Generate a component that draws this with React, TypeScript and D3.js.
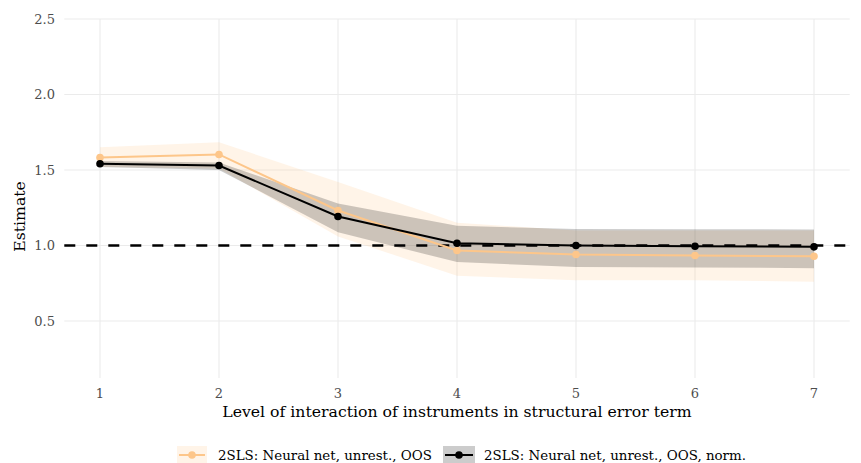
import React from "react";
import * as d3 from "d3";

const levels = [1, 2, 3, 4, 5, 6, 7];
const orangeEst = [1.583, 1.603, 1.232, 0.967, 0.94, 0.934, 0.929];
const orangeLo = [1.52, 1.51, 1.06, 0.8, 0.77, 0.77, 0.76];
const orangeHi = [1.651, 1.684, 1.42, 1.15, 1.1, 1.1, 1.1];
const blackEst = [1.541, 1.53, 1.192, 1.015, 1.0, 0.995, 0.991];
const blackLo = [1.52, 1.5, 1.088, 0.89, 0.857, 0.855, 0.85];
const blackHi = [1.56, 1.55, 1.278, 1.13, 1.11, 1.108, 1.106];
const yTicks = [0.5, 1.0, 1.5, 2.0, 2.5];
const seriesLabels = [
  "2SLS: Neural net, unrest., OOS",
  "2SLS: Neural net, unrest., OOS, norm.",
];

const W = 861;
const H = 463;
const FONT = "'DejaVu Serif', serif";
const ORANGE = "#fdc68a";

export default function App() {
  const x = d3.scaleLinear().domain([0.7, 7.3]).range([64.3, 849.7]);
  const y = d3.scaleLinear().domain([0.5, 2.5]).range([321, 19]);
  const panelTop = 19;
  const panelBottom = 378;

  const area = (lo: number[], hi: number[]) =>
    d3
      .area<number>()
      .x((d) => x(d))
      .y0((_, i) => y(lo[i]))
      .y1((_, i) => y(hi[i]))(levels) as string;
  const line = (v: number[]) =>
    d3
      .line<number>()
      .x((d) => x(d))
      .y((_, i) => y(v[i]))(levels) as string;

  return (
    <svg
      width={W}
      height={H}
      style={{ position: "absolute", left: 0, top: 0, background: "#fff" }}
      fontFamily={FONT}
    >
      {/* grid */}
      {yTicks.map((t) => (
        <line key={"gy" + t} x1={64.3} x2={849.7} y1={y(t)} y2={y(t)} stroke="#ebebeb" strokeWidth={1.1} />
      ))}
      {levels.map((t) => (
        <line key={"gx" + t} x1={x(t)} x2={x(t)} y1={panelTop} y2={panelBottom} stroke="#ebebeb" strokeWidth={1.1} />
      ))}
      {/* ribbons */}
      <path d={area(orangeLo, orangeHi)} fill={ORANGE} fillOpacity={0.2} />
      <path d={area(blackLo, blackHi)} fill="#000" fillOpacity={0.2} />
      {/* reference line */}
      <line x1={64.3} x2={849.7} y1={y(1)} y2={y(1)} stroke="#000" strokeWidth={2.6} strokeDasharray="11,11" />
      {/* lines */}
      <path d={line(orangeEst)} fill="none" stroke={ORANGE} strokeWidth={2} />
      {levels.map((d, i) => (
        <circle key={"po" + d} cx={x(d)} cy={y(orangeEst[i])} r={3.8} fill={ORANGE} />
      ))}
      <path d={line(blackEst)} fill="none" stroke="#000" strokeWidth={2} />
      {levels.map((d, i) => (
        <circle key={"pb" + d} cx={x(d)} cy={y(blackEst[i])} r={3.8} fill="#000" />
      ))}
      {/* y axis */}
      {yTicks.map((t) => (
        <text key={"ty" + t} x={55} y={y(t)} dy="0.35em" textAnchor="end" fontSize={13} fill="#4d4d4d">
          {d3.format(".1f")(t)}
        </text>
      ))}
      {levels.map((t) => (
        <text key={"tx" + t} x={x(t)} y={398} textAnchor="middle" fontSize={13} fill="#4d4d4d">
          {t}
        </text>
      ))}
      <text x={457} y={417} textAnchor="middle" fontSize={15.7} fill="#000">
        Level of interaction of instruments in structural error term
      </text>
      <text transform={`translate(25,${(panelTop + panelBottom) / 2 + 18}) rotate(-90)`} textAnchor="middle" fontSize={15.7} fill="#000">
        Estimate
      </text>
      {/* legend */}
      <g>
        <rect x={177} y={446} width={30} height={17} fill={ORANGE} fillOpacity={0.2} />
        <line x1={179} x2={205} y1={455} y2={455} stroke={ORANGE} strokeWidth={2} />
        <circle cx={192} cy={455} r={3.8} fill={ORANGE} />
        <text x={218} y={460} fontSize={13.4} fill="#000">
          {seriesLabels[0]}
        </text>
        <rect x={443} y={446} width={32} height={17} fill="#000" fillOpacity={0.2} />
        <line x1={445} x2={473} y1={455} y2={455} stroke="#000" strokeWidth={2} />
        <circle cx={459} cy={455} r={3.8} fill="#000" />
        <text x={484} y={460} fontSize={13.4} fill="#000">
          {seriesLabels[1]}
        </text>
      </g>
    </svg>
  );
}
